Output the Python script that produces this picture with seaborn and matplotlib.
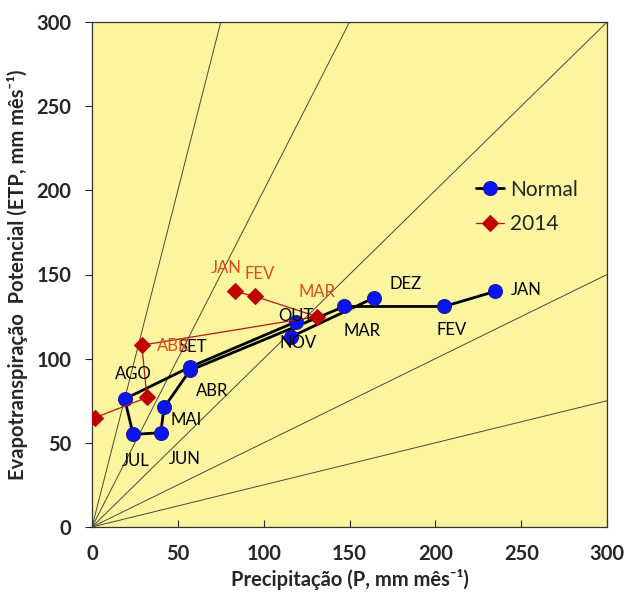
import numpy as np
import pandas as pd
import matplotlib
matplotlib.use("Agg")
import matplotlib.pyplot as plt
import seaborn as sns

# meses
meses = ["JAN", "FEV", "MAR", "ABR", "MAI", "JUN", "JUL", "AGO", "SET", "OUT", "NOV", "DEZ"]

# Normal climatológica
p_normal = [235, 205, 147, 57, 42, 40, 24, 19, 57, 119, 116, 164]
etp_normal = [140, 131, 131, 93, 71, 56, 55, 76, 95, 122, 113, 136]

# 2014 (jan-jun)
meses_2014 = ["JAN", "FEV", "MAR", "ABR", "MAI", "JUN"]
p_2014 = [83, 95, 131, 29, 32, 2]
etp_2014 = [140, 137, 125, 108, 77, 65]

# razões ETP/P das retas de referência
razoes = [4, 2, 1, 0.5, 0.25]

df_normal = pd.DataFrame({"P": p_normal, "ETP": etp_normal, "mes": meses})
df_2014 = pd.DataFrame({"P": p_2014, "ETP": etp_2014, "mes": meses_2014})

sns.set_style("ticks")
plt.rcParams["font.family"] = ["Lato", "DejaVu Sans"]

fig = plt.figure(figsize=(6.39, 6.0), dpi=100)
ax = fig.add_axes([0.144, 0.1217, 0.806, 0.8416])
ax.set_facecolor("#FBF59F")

xs = np.array([0, 300])
for r in razoes:
    ax.plot(xs, r * xs, color="#4a4a3a", lw=0.7, zorder=1)

sns.lineplot(data=df_normal, x="P", y="ETP", sort=False, estimator=None,
             color="black", lw=2.0, marker="o", markersize=10,
             markerfacecolor="#0a14f0", markeredgecolor="#1a1aa0", markeredgewidth=0.8,
             label="Normal", ax=ax, zorder=3)
sns.lineplot(data=df_2014, x="P", y="ETP", sort=False, estimator=None,
             color="#b01a10", lw=0.9, marker="D", markersize=8,
             markerfacecolor="#c00000", markeredgecolor="#c00000",
             label="2014", ax=ax, zorder=4)

# rótulos dos meses (Normal)
desloc_normal = {
    "JAN": (31, 1), "FEV": (8, -24), "MAR": (18, -25), "ABR": (22, -21),
    "MAI": (22, -13), "JUN": (24, -26), "JUL": (2, -27), "AGO": (9, 25),
    "SET": (3, 20), "OUT": (0, 6), "NOV": (7, -6), "DEZ": (32, 14),
}
for m, x, y in zip(meses, p_normal, etp_normal):
    dx, dy = desloc_normal[m]
    ax.annotate(m, (x, y), xytext=(dx, dy), textcoords="offset pixels",
                ha="center", va="center", fontsize=12, color="black", zorder=5)

# rótulos 2014
desloc_2014 = {"JAN": (-8, 23), "FEV": (5, 22), "MAR": (0, 25), "ABR": (31, -1)}
for m, x, y in zip(meses_2014, p_2014, etp_2014):
    if m in desloc_2014:
        dx, dy = desloc_2014[m]
        ax.annotate(m, (x, y), xytext=(dx, dy), textcoords="offset pixels",
                    ha="center", va="center", fontsize=12, color="#dc4a1e", zorder=5)

ax.set_xlim(0, 300)
ax.set_ylim(0, 300)
ax.set_xticks(range(0, 301, 50))
ax.set_yticks(range(0, 301, 50))
ax.tick_params(axis="x", direction="in", length=5, labelsize=14.5, pad=12)
ax.tick_params(axis="y", direction="out", length=5, labelsize=14.5, pad=10)
for lab in ax.get_xticklabels() + ax.get_yticklabels():
    lab.set_fontweight("bold")
for s in ax.spines.values():
    s.set_visible(True)
    s.set_color("#333333")
    s.set_linewidth(0.9)

ax.set_xlabel("Precipitação (P, mm mês⁻¹)", fontsize=14.5, fontweight="bold", labelpad=4)
ax.set_ylabel("Evapotranspiração  Potencial (ETP, mm mês⁻¹)", fontsize=14.5,
              fontweight="bold", labelpad=6)

ax.legend(loc="upper left", bbox_to_anchor=(0.71, 0.725), frameon=False,
          fontsize=15, handlelength=1.3, labelspacing=0.7, handletextpad=0.3)

fig.savefig("out.png", dpi=100)
